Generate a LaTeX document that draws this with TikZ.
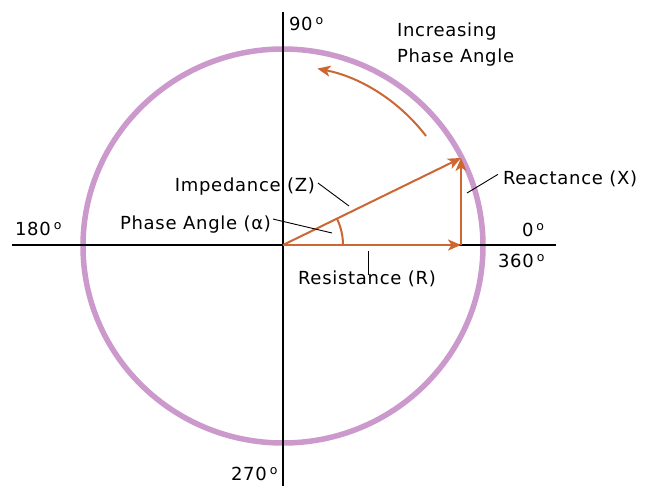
\documentclass[tikz,border=0pt]{standalone}
\usepackage{fontspec}
\setmainfont{DejaVu Sans}[LetterSpace=4]
\usetikzlibrary{arrows.meta}
\definecolor{circ}{HTML}{CC99CC}
\definecolor{vec}{HTML}{CC6633}
\newcommand{\dg}{\hspace{3pt}\raisebox{6pt}{\fontsize{12.5}{12}\selectfont o}}
\begin{document}
\begin{tikzpicture}[x=1pt,y=-1pt,
  lbl/.style={font=\fontsize{18}{20}\selectfont, inner sep=0pt, outer sep=0pt},
  axisline/.style={line width=1.3pt, black},
  vector/.style={vec, line width=2.3pt, -{Stealth[length=13pt,width=11pt,inset=3.5pt]}},
  leader/.style={line width=0.9pt, black}]
\useasboundingbox (0,0) rectangle (645,486);
\fill[white] (0,0) rectangle (645,486);
% reference points
\coordinate (O) at (283,245);
\coordinate (CC) at (283,246);
\coordinate (R) at (461,245);
\coordinate (Z) at (461,158);
\coordinate (xl) at (12,245);
\coordinate (xr) at (556,245);
\coordinate (yt) at (283,12);
\coordinate (yb) at (283,486);
% circle
\draw[circ, line width=5.5pt] (CC) ellipse[x radius=200, y radius=197];
% axes
\draw[axisline] (xl) -- (xr);
\draw[axisline] (yt) -- (yb);
% vectors
\draw[vector] (O) -- (R);
\draw[vector, line width=1.8pt] (R) -- (Z);
\draw[vector, line width=2pt] (O) -- (Z);
% phase angle arc
\coordinate (a0) at (343,245);
\draw[vec, line width=2pt] (a0) arc[start angle=0, end angle=-26, radius=60];
% increasing arrow
\coordinate (inc0) at (426,136);
\draw[vec, line width=2pt, -{Stealth[length=13pt,width=11pt,inset=3.5pt]}] (inc0) arc[start angle=-37.4, end angle=-79, radius=180];
% labels
\node[lbl, anchor=base west] (l90) at (289,31) {90\dg};
\node[lbl, anchor=base west] (inc1) at (397,37) {Increasing};
\node[lbl, anchor=base west] (inc2) at (397,63) {Phase Angle};
\node[lbl, anchor=base west] (l180) at (15,236) {180\dg};
\node[lbl, anchor=base west] (l0) at (522,237) {0\dg};
\node[lbl, anchor=base west] (l360) at (498,268) {360\dg};
\node[lbl, anchor=base west] (l270) at (231,480) {270\dg};
\node[lbl, anchor=base east] (imp) at (315,192) {Impedance (Z)};
\node[lbl, anchor=base east] (pha) at (271,230) {Phase Angle (α)};
\node[lbl, anchor=base west] (rea) at (503,185) {Reactance (X)};
\node[lbl, anchor=base] (res) at (367,285) {Resistance (R)};
% leaders
\coordinate (impE) at (349,206);
\coordinate (phaE) at (332,233);
\coordinate (reaE) at (467,193);
\coordinate (resT) at (368,251);
\draw[leader] (imp.east) ++(3,-4) -- (impE);
\draw[leader] (pha.east) ++(2,-6) -- (phaE);
\draw[leader] (rea.west) ++(-5,-5) -- (reaE);
\draw[leader] (resT) -- ([yshift=-4pt]res.north -| resT);
\end{tikzpicture}
\end{document}
